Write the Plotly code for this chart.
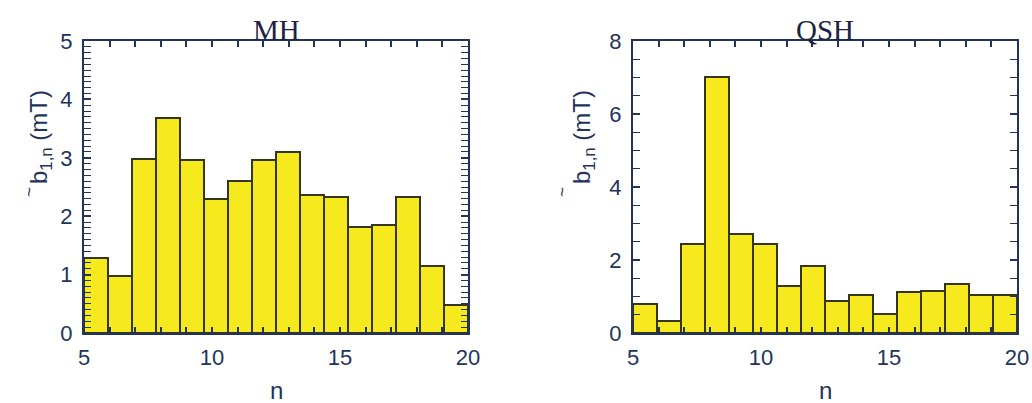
import plotly.graph_objects as go

# Toroidal mode numbers and m=1 mode amplitudes (mT)
modes = list(range(5, 21))
b_mh = [1.29, 0.97, 2.98, 3.68, 2.96, 2.29, 2.60, 2.96, 3.10, 2.37, 2.33, 1.81, 1.85, 2.33, 1.15, 0.48]
b_qsh = [0.80, 0.34, 2.43, 7.02, 2.72, 2.43, 1.28, 1.84, 0.87, 1.05, 0.52, 1.13, 1.16, 1.34, 1.05, 1.05]

panel_titles = ["MH", "QSH"]
x_title = "n"
y_title = "b<sub>1,n</sub> (mT)"
y_title_accent = "~"

INK = "#22345a"
BAR_FILL = "#f6e91e"
BAR_EDGE = "#35351a"
SANS = "Liberation Sans, Arial, sans-serif"
SERIF = "Liberation Serif, Times New Roman, serif"

W, H = 1032, 403
x_domains = [[84 / W, 468 / W], [633 / W, 1017 / W]]
y_domain = [1 - 333 / H, 1 - 41 / H]
y_ranges = [[0, 5], [0, 8]]
y_dticks = [1, 2]
y_minor = [0.1, 0.5]
y_title_x = [40, 583]
accent_x = [29, 562]

fig = go.Figure()
layout = dict(
    width=W, height=H,
    margin=dict(l=0, r=0, t=0, b=0, pad=0, autoexpand=False),
    paper_bgcolor="white", plot_bgcolor="white",
    showlegend=False, bargap=0,
)
annotations = []


def label(text, x_px, y_px, font, angle=0):
    return dict(text=text, x=x_px / W, y=1 - y_px / H, xref="paper", yref="paper",
                xanchor="center", yanchor="middle", showarrow=False,
                textangle=angle, font=font)


for i, vals in enumerate([b_mh, b_qsh]):
    k = 2 * i + 1           # hidden axis carrying the bars
    kv = 2 * i + 2          # visible axis carrying the ticks
    xa, xv, ya = f"xaxis{k if k > 1 else ''}", f"xaxis{kv}", f"yaxis{i + 1 if i else ''}"
    xref, xvref, yref = f"x{k if k > 1 else ''}", f"x{kv}", f"y{i + 1 if i else ''}"

    fig.add_trace(go.Bar(
        x=modes, y=vals, width=1, xaxis=xref, yaxis=yref,
        marker=dict(color=BAR_FILL, line=dict(color=BAR_EDGE, width=2)),
        hoverinfo="x+y",
    ))
    # empty trace so the tick-carrying axis gets its own subplot
    fig.add_trace(go.Scatter(x=[], y=[], xaxis=xvref, yaxis=yref, hoverinfo="skip"))

    layout[xa] = dict(domain=x_domains[i], range=[4.5, 20.5], anchor=yref,
                      visible=False, fixedrange=True, automargin=False)
    layout[xv] = dict(
        domain=x_domains[i], range=[5, 20], anchor=yref, overlaying=xref,
        tickmode="linear", tick0=5, dtick=5,
        ticks="inside", ticklen=6, tickwidth=2, tickcolor=INK,
        minor=dict(dtick=1, ticks="inside", ticklen=6, tickwidth=2,
                   tickcolor=INK, showgrid=False),
        showline=True, linecolor=INK, linewidth=2, mirror="allticks",
        showgrid=False, zeroline=False, automargin=False, ticklabelstandoff=4,
        tickfont=dict(family=SANS, size=22, color=INK),
    )
    layout[ya] = dict(
        domain=y_domain, range=y_ranges[i], anchor=xvref,
        tickmode="linear", tick0=0, dtick=y_dticks[i],
        ticks="inside", ticklen=7, tickwidth=2, tickcolor=INK,
        minor=dict(dtick=y_minor[i], ticks="inside", ticklen=3,
                   tickwidth=1.2, tickcolor=INK, showgrid=False),
        showline=True, linecolor=INK, linewidth=2, mirror="allticks",
        showgrid=False, zeroline=False, ticklabelstandoff=5, automargin=False,
        tickfont=dict(family=SANS, size=22, color=INK),
    )

    xc = (x_domains[i][0] + x_domains[i][1]) / 2 * W
    annotations.append(label(panel_titles[i], xc, 30,
                             dict(family=SERIF, size=29, color="#1c2440")))
    annotations.append(label(x_title, xc, 390, dict(family=SANS, size=24, color=INK)))
    annotations.append(label(y_title, y_title_x[i], 137,
                             dict(family=SANS, size=24, color=INK), angle=-90))
    annotations.append(label(y_title_accent, accent_x[i], 192,
                             dict(family=SANS, size=17, color=INK), angle=-90))

layout["annotations"] = annotations
fig.update_layout(**layout)
fig.write_html("out.html")
